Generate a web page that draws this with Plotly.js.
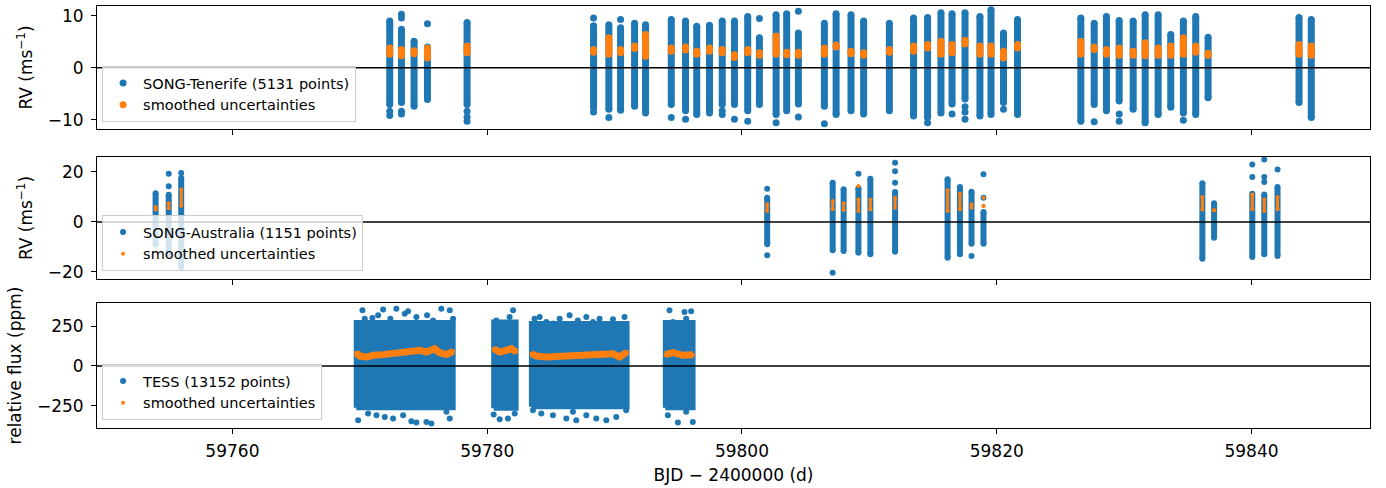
<!DOCTYPE html>
<html>
<head>
<meta charset="utf-8">
<script src="https://cdn.plot.ly/plotly-3.0.1.min.js"></script>
<style>html,body{margin:0;padding:0;background:#fff;}#chart{width:1386px;height:488px;}</style>
</head>
<body>
<div id="chart"></div>
<script>
// ---------- SONG-Tenerife: one entry per night (time, dense low/high, smoothed-uncertainty low/high)
const tenT   = [59772.35,59773.27,59774.26,59775.31,59778.42,59788.35,59789.55,59790.47,59791.57,59792.43,59794.45,59795.57,59796.45,59797.45,59798.45,59799.41,59800.45,59801.37,59802.68,59803.51,59804.43,59806.47,59807.39,59808.56,59809.55,59811.57,59813.47,59814.57,59815.62,59816.49,59817.51,59818.68,59819.55,59820.53,59821.63,59826.60,59827.65,59828.61,59829.61,59830.71,59831.65,59832.67,59833.66,59834.65,59835.62,59836.59,59843.73,59844.69];
const tenLo  = [-7.1,-6.7,-7.4,-6.1,-7.1,-7.7,-8.0,-8.2,-7.4,-8.7,-7.1,-8.3,-9.0,-8.7,-7.1,-7.1,-8.3,-7.1,-9.0,-8.3,-7.0,-7.4,-9.0,-8.3,-8.9,-8.3,-9.3,-9.6,-8.7,-7.0,-6.0,-9.3,-9.0,-6.7,-9.0,-10.3,-7.1,-8.3,-6.4,-8.0,-10.6,-9.0,-7.6,-8.7,-9.0,-5.8,-6.7,-9.6];
const tenHi  = [9.0,7.4,5.1,4.0,8.7,8.1,8.3,7.7,8.6,8.3,9.3,9.0,8.0,8.2,9.0,9.0,9.9,5.8,10.2,10.4,6.7,8.6,10.4,10.2,9.0,8.6,9.6,9.7,10.6,10.4,10.6,9.9,11.2,6.7,9.3,9.6,8.6,9.9,9.1,9.0,10.2,10.2,6.4,9.0,9.9,5.9,9.7,9.3];
const tenULo = [2.6,2.3,2.7,1.9,2.9,3.0,2.6,2.9,3.7,2.2,3.2,3.4,2.6,3.2,2.9,2.0,2.9,2.4,2.6,2.5,2.4,2.6,4.0,2.7,2.4,3.0,3.2,3.8,2.6,2.9,4.6,2.6,2.6,1.9,3.8,2.6,3.5,2.6,2.4,2.4,2.3,2.4,2.4,2.6,3.0,2.4,2.6,2.4];
const tenUHi = [3.8,3.5,3.3,3.8,4.2,3.5,5.8,3.5,4.2,6.4,3.8,4.0,3.2,3.8,3.5,2.5,3.5,2.9,6.1,3.0,3.0,3.8,4.4,3.2,2.9,3.5,4.2,4.5,5.1,4.5,5.3,4.2,4.2,3.2,4.5,5.1,4.0,3.5,3.8,3.2,4.8,3.8,4.2,5.8,4.2,2.8,4.5,4.2];
const tenOutT = [59772.35,59772.35,59773.27,59773.27,59773.27,59773.27,59775.31,59778.42,59778.42,59778.42,59788.35,59788.35,59789.55,59790.47,59794.45,59795.57,59798.45,59798.45,59799.41,59800.45,59801.37,59802.68,59804.43,59804.43,59806.47,59814.57,59816.49,59817.51,59817.51,59817.51,59820.53,59827.65,59829.61,59829.61,59834.65];
const tenOutV = [-8.4,-9.2,10.3,9.6,-8.4,-8.9,8.5,-8.4,-9.5,-10.3,9.6,-8.5,-9.6,9.3,-9.6,-9.9,-8.3,-9.0,-9.9,-10.3,9.5,-10.6,10.9,-9.5,-10.8,-10.6,-8.9,-7.5,-8.5,-9.9,-8.0,-10.4,-8.9,-10.3,-10.1];

// ---------- SONG-Australia
const ausT   = [59753.97,59755.00,59755.98,59801.98,59807.12,59807.98,59809.14,59810.08,59812.02,59816.14,59817.11,59818.02,59818.96,59836.14,59837.06,59840.06,59841.00,59842.04];
const ausLo  = [-9.0,-13.0,-18.0,-8.9,-11.3,-11.6,-12.3,-12.9,-11.9,-14.3,-12.9,-8.7,-8.7,-14.7,-6.3,-14.0,-12.9,-13.6];
const ausHi  = [11.5,10.9,17.6,9.7,15.7,13.1,13.5,17.3,12.0,17.1,14.0,12.1,4.0,15.5,7.5,11.3,11.0,14.0];
const ausULo = [5.0,5.5,6.5,4.4,5.1,4.8,4.4,5.0,5.7,4.4,5.0,5.7,6.4,5.0,4.7,5.1,4.4,5.1];
const ausUHi = [6.0,7.5,13.0,7.1,8.4,7.5,9.0,9.0,9.7,12.7,11.3,7.1,6.4,10.0,4.7,11.0,9.0,10.0];
const ausOutT = [59755.00,59755.00,59755.98,59801.98,59801.98,59807.12,59809.14,59812.02,59812.02,59812.02,59818.02,59818.96,59818.96,59840.06,59840.06,59841.00,59841.00,59841.00,59842.04];
const ausOutV = [19.3,14.3,19.6,13.3,-13.3,-20.3,19.3,23.7,20.3,15.7,-13.6,19.1,9.7,18.0,23.0,25.0,16.0,18.0,21.0];
const ausUOutT = [59809.14,59818.96];
const ausUOutV = [14.4,9.7];

// ---------- TESS: observing blocks (start, end, dense low/high), outliers, smoothed uncertainties
const tessStart = [59769.72,59780.51,59783.47,59793.98];
const tessEnd   = [59777.33,59782.27,59790.98,59796.16];
const tessLo    = [-262,-265,-255,-262];
const tessHi    = [272,275,265,272];
const tessOutT = [59770.21,59770.99,59771.83,59772.87,59772.40,59773.53,59774.44,59775.28,59776.40,59777.06,59777.32,59770.39,59771.44,59773.79,59775.75,
  59769.87,59771.31,59771.96,59772.61,59774.05,59774.44,59775.23,59775.62,59776.80,59777.06,59770.65,59773.40,
  59782.03,59780.72,59781.76,59780.51,59780.98,59781.63,59782.16,
  59783.72,59784.12,59784.64,59785.69,59786.47,59787.12,59787.78,59788.82,59789.87,59790.78,59785.16,59788.30,
  59783.59,59784.25,59785.16,59786.21,59786.99,59787.78,59788.56,59789.35,59790.13,59790.91,59786.73,
  59794.31,59795.49,59796.01,59795.62,59794.58,59794.18,59794.97,59795.62,59796.14];
const tessOutV = [348,300,354,358,296,327,306,317,358,348,296,296,317,342,285,
  -340,-308,-319,-329,-346,-354,-350,-360,-287,-329,-298,-308,
  348,285,306,-304,-333,-329,-298,
  296,306,275,296,317,285,306,296,292,306,265,275,
  -277,-298,-308,-329,-340,-308,-329,-340,-319,-277,-287,
  348,338,342,296,275,-308,-354,-287,-350];
const tessUT = [59769.72,59770.0,59770.52,59771.05,59771.83,59772.61,59773.40,59773.92,59774.71,59775.23,59775.88,59776.27,59776.80,59777.33,null,
  59780.51,59780.98,59781.50,59781.90,59782.27,null,
  59783.47,59783.86,59784.64,59785.69,59786.73,59787.78,59788.82,59789.87,59790.39,59790.98,null,
  59793.98,59794.58,59795.36,59796.16];
const tessUV = [83,62,56,67,71,77,87,83,98,87,108,83,71,92,null,
  108,87,98,108,87,null,
  77,62,56,62,67,73,71,77,56,87,null,
  71,83,67,71];

const xTicks = [59760,59780,59800,59820,59840];
const BLUE = '#1f77b4', ORANGE = '#ff7f0e';

function segs(t, lo, hi) {
  const x = [], y = [];
  t.forEach((v, i) => { x.push(v, v, null); y.push(lo[i], hi[i], null); });
  return {x, y};
}
function ends(t, lo, hi, ot, ov) {
  const x = [], y = [];
  t.forEach((v, i) => { x.push(v, v); y.push(lo[i], hi[i]); });
  return {x: x.concat(ot), y: y.concat(ov)};
}

const traces = [];
// Panel 1
let s = segs(tenT, tenLo, tenHi), e = ends(tenT, tenLo, tenHi, tenOutT, tenOutV);
traces.push({x: s.x, y: s.y, xaxis:'x', yaxis:'y', mode:'lines', line:{color:BLUE, width:7}, showlegend:false, hoverinfo:'skip'});
traces.push({x: e.x, y: e.y, xaxis:'x', yaxis:'y', mode:'markers', marker:{color:BLUE, size:7}, name:'SONG-Tenerife (5131 points)', legend:'legend'});
s = segs(tenT, tenULo, tenUHi); e = ends(tenT, tenULo, tenUHi, [], []);
traces.push({x: s.x, y: s.y, xaxis:'x', yaxis:'y', mode:'lines', line:{color:ORANGE, width:7}, showlegend:false, hoverinfo:'skip'});
traces.push({x: e.x, y: e.y, xaxis:'x', yaxis:'y', mode:'markers', marker:{color:ORANGE, size:7}, name:'smoothed uncertainties', legend:'legend'});
// Panel 2
s = segs(ausT, ausLo, ausHi); e = ends(ausT, ausLo, ausHi, ausOutT, ausOutV);
traces.push({x: s.x, y: s.y, xaxis:'x2', yaxis:'y2', mode:'lines', line:{color:BLUE, width:6}, showlegend:false, hoverinfo:'skip'});
traces.push({x: e.x, y: e.y, xaxis:'x2', yaxis:'y2', mode:'markers', marker:{color:BLUE, size:6}, name:'SONG-Australia (1151 points)', legend:'legend2'});
s = segs(ausT, ausULo, ausUHi); e = ends(ausT, ausULo, ausUHi, ausUOutT, ausUOutV);
traces.push({x: s.x, y: s.y, xaxis:'x2', yaxis:'y2', mode:'lines', line:{color:ORANGE, width:3}, showlegend:false, hoverinfo:'skip'});
traces.push({x: e.x, y: e.y, xaxis:'x2', yaxis:'y2', mode:'markers', marker:{color:ORANGE, size:4}, name:'smoothed uncertainties', legend:'legend2'});
// Panel 3
tessStart.forEach((t0, i) => {
  const t1 = tessEnd[i];
  traces.push({x:[t0,t1,t1,t0,t0], y:[tessLo[i],tessLo[i],tessHi[i],tessHi[i],tessLo[i]], xaxis:'x3', yaxis:'y3',
    mode:'lines', fill:'toself', fillcolor:BLUE, line:{color:BLUE, width:5}, showlegend:false, hoverinfo:'skip'});
});
traces.push({x: tessOutT, y: tessOutV, xaxis:'x3', yaxis:'y3', mode:'markers', marker:{color:BLUE, size:6}, name:'TESS (13152 points)', legend:'legend3'});
traces.push({x: tessUT, y: tessUV, xaxis:'x3', yaxis:'y3', mode:'lines', line:{color:ORANGE, width:7}, showlegend:false, hoverinfo:'skip'});
traces.push({x: tessUT, y: tessUV, xaxis:'x3', yaxis:'y3', mode:'markers', marker:{color:ORANGE, size:4}, name:'smoothed uncertainties', legend:'legend3'});

const FONT = 'DejaVu Sans, sans-serif';
const xBase = {range:[59749.37, 59849.3], tickvals:xTicks, tickformat:'d', showline:true, mirror:true, linecolor:'#000', linewidth:1,
  ticks:'outside', ticklen:5, tickwidth:1, tickcolor:'#000', showgrid:false, zeroline:false, tickfont:{size:17, family:FONT, color:'#000'},
  ticklabelstandoff:3};
const yBase = {showline:true, mirror:true, linecolor:'#000', linewidth:1, ticks:'outside', ticklen:5, tickwidth:1, tickcolor:'#000',
  showgrid:false, zeroline:false, tickfont:{size:17, family:FONT, color:'#000'}, ticklabelstandoff:4};
const legBase = {xanchor:'left', yanchor:'bottom', bgcolor:'rgba(255,255,255,0.8)', bordercolor:'#cccccc', borderwidth:1,
  font:{size:14.5, family:FONT, color:'#000'}, itemwidth:30, tracegroupgap:0};

const layout = {
  width:1386, height:488, margin:{l:97, r:16, t:6, b:60}, paper_bgcolor:'#fff', plot_bgcolor:'#fff',
  font:{family:FONT, color:'#000'},
  xaxis: Object.assign({}, xBase, {anchor:'y', showticklabels:false}),
  xaxis2: Object.assign({}, xBase, {anchor:'y2', showticklabels:false}),
  xaxis3: Object.assign({}, xBase, {anchor:'y3', title:{text:'BJD − 2400000 (d)', font:{size:17, family:FONT}, standoff:8}}),
  yaxis: Object.assign({}, yBase, {domain:[0.7085,1.0], range:[-11.8,11.9], tickvals:[-10,0,10], anchor:'x',
    title:{text:'RV (ms<sup>−1</sup>)', font:{size:17, family:FONT}, standoff:10}}),
  yaxis2: Object.assign({}, yBase, {domain:[0.3531,0.6422], range:[-22.8,26], tickvals:[-20,0,20], anchor:'x2',
    title:{text:'RV (ms<sup>−1</sup>)', font:{size:17, family:FONT}, standoff:10}}),
  yaxis3: Object.assign({}, yBase, {domain:[0,0.2962], range:[-388,394], tickvals:[-250,0,250], anchor:'x3',
    title:{text:'relative flux (ppm)', font:{size:17, family:FONT}, standoff:10}}),
  legend: Object.assign({}, legBase, {x:0.004, y:0.725}),
  legend2: Object.assign({}, legBase, {x:0.004, y:0.372}),
  legend3: Object.assign({}, legBase, {x:0.004, y:0.019}),
  shapes: [
    {type:'line', xref:'x domain', yref:'y', x0:0, x1:1, y0:0, y1:0, line:{color:'#000', width:1.5}, layer:'above'},
    {type:'line', xref:'x2 domain', yref:'y2', x0:0, x1:1, y0:0, y1:0, line:{color:'#000', width:1.5}, layer:'above'},
    {type:'line', xref:'x3 domain', yref:'y3', x0:0, x1:1, y0:0, y1:0, line:{color:'#000', width:1.5}, layer:'above'}
  ],
  showlegend:true
};
Plotly.newPlot('chart', traces, layout, {staticPlot:true, displayModeBar:false});
</script>
</body>
</html>
